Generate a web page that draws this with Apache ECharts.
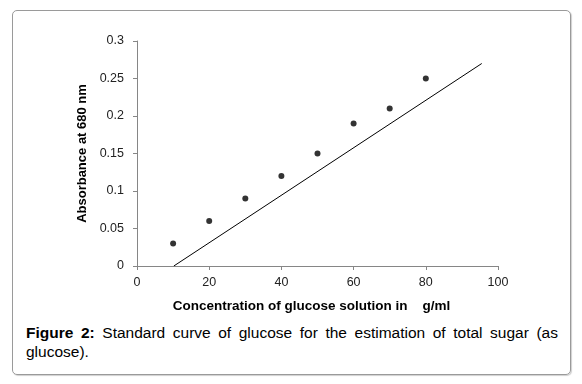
<!DOCTYPE html>
<html>
<head>
<meta charset="utf-8">
<script src="https://cdn.jsdelivr.net/npm/echarts@6/dist/echarts.min.js"></script>
<style>
  html, body { margin: 0; padding: 0; background: #fff; }
  body { width: 582px; height: 384px; position: relative; overflow: hidden; }
  .frame {
    position: absolute; left: 12px; top: 10px; width: 557px; height: 363px;
    border: 1px solid #9a9a9a; border-radius: 5px;
    box-shadow: 1px 1px 1px #d0d0d0;
  }
  #chart { position: absolute; left: 0; top: 0; width: 582px; height: 320px; }
  .caption {
    position: absolute; left: 26px; top: 323px; width: 532px;
    font-family: Arial, "Liberation Sans", sans-serif; font-size: 15.5px;
    line-height: 19px; color: #000; text-align: justify;
  }
  .caption b { font-weight: bold; }
</style>
</head>
<body>
<div class="frame"></div>
<div id="chart"></div>
<div class="caption"><b>Figure 2:</b> Standard curve of glucose for the estimation of total sugar (as glucose).</div>
<script>
// 浓度 (x) 与吸光度 (y)
const concentration = [10, 20, 30, 40, 50, 60, 70, 80];
const absorbance = [0.03, 0.06, 0.09, 0.12, 0.15, 0.19, 0.21, 0.25];
// 标准曲线的两个端点
const fitLine = [[10.2, 0], [95.5, 0.27]];

const xTicks = [0, 20, 40, 60, 80, 100];
const yTicks = [0, 0.05, 0.1, 0.15, 0.2, 0.25, 0.3];

const font = 'Arial, "Liberation Sans", sans-serif';

let myChart = echarts.init(document.getElementById('chart'));
myChart.setOption({
  animation: false,
  grid: { left: 137, right: 84, top: 41, bottom: 54, containLabel: false },
  xAxis: {
    type: 'value',
    min: xTicks[0],
    max: xTicks[xTicks.length - 1],
    interval: 20,
    name: 'Concentration of glucose solution in    g/ml',
    nameLocation: 'middle',
    nameGap: 33,
    nameTextStyle: { fontFamily: font, fontWeight: 'bold', fontSize: 13.5, color: '#000', padding: [0, 12, 0, 0] },
    axisLine: { onZero: false, lineStyle: { color: '#868686', width: 1 } },
    axisTick: { show: true, length: 4, lineStyle: { color: '#868686' } },
    axisLabel: { fontFamily: font, fontSize: 12.5, color: '#222', margin: 10 },
    splitLine: { show: false }
  },
  yAxis: {
    type: 'value',
    min: yTicks[0],
    max: yTicks[yTicks.length - 1],
    interval: 0.05,
    name: 'Absorbance at 680 nm',
    nameLocation: 'middle',
    nameGap: 47,
    nameTextStyle: { fontFamily: font, fontWeight: 'bold', fontSize: 13, color: '#000' },
    axisLine: { show: true, lineStyle: { color: '#868686', width: 1 } },
    axisTick: { show: true, length: 4, lineStyle: { color: '#868686' } },
    axisLabel: { fontFamily: font, fontSize: 12.5, color: '#222', margin: 13 },
    splitLine: { show: false }
  },
  series: [
    {
      type: 'scatter',
      data: concentration.map((c, i) => [c, absorbance[i]]),
      symbol: 'circle',
      symbolSize: 6,
      itemStyle: { color: '#000' }
    },
    {
      type: 'line',
      data: fitLine,
      symbol: 'none',
      lineStyle: { color: '#000', width: 1 }
    }
  ]
});
</script>
</body>
</html>
